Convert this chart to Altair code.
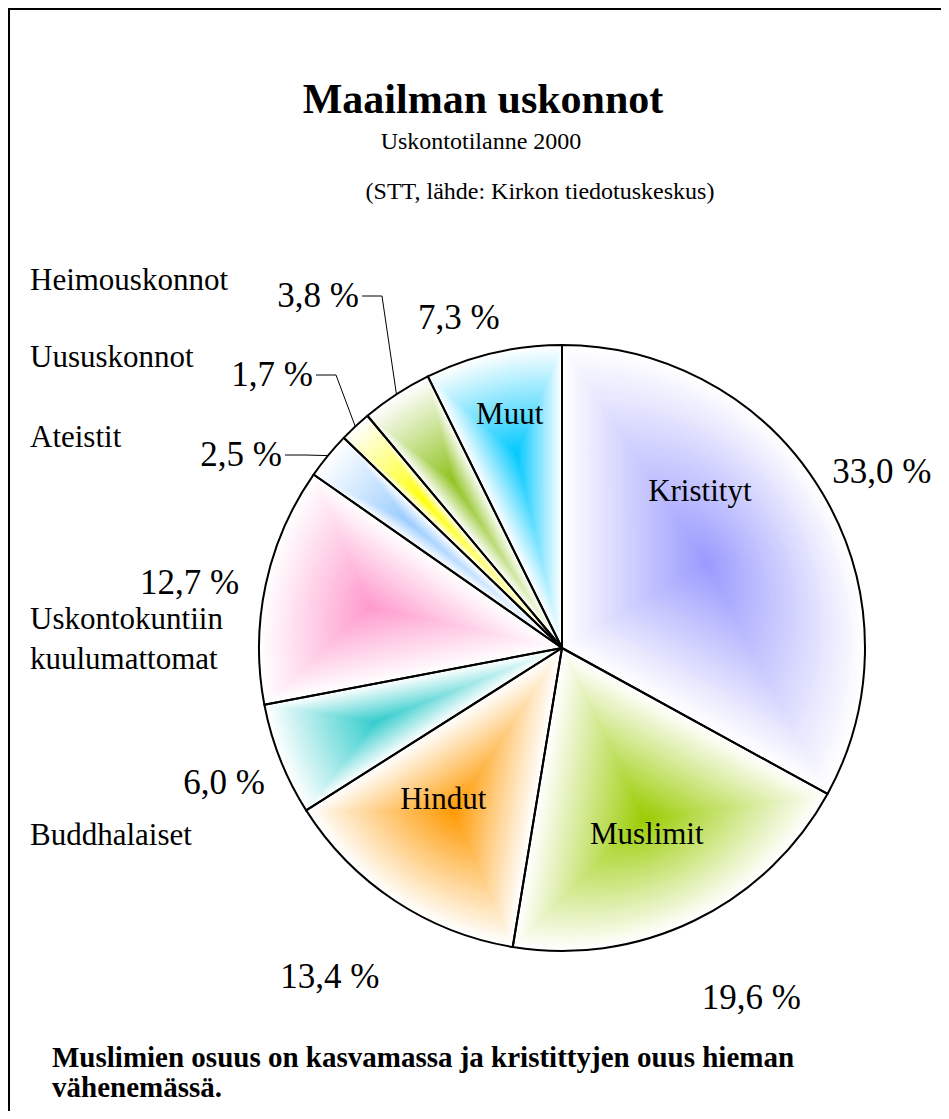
import math
import altair as alt
import pandas as pd

# ---------------- data ----------------
categories = ["Kristityt", "Muslimit", "Hindut", "Buddhalaiset",
              "Uskontokuntiin kuulumattomat", "Ateistit", "Uususkonnot",
              "Heimouskonnot", "Muut"]
shares = [33.0, 19.6, 13.4, 6.0, 12.7, 2.5, 1.7, 3.8, 7.3]
share_labels = ["33,0 %", "19,6 %", "13,4 %", "6,0 %", "12,7 %",
                "2,5 %", "1,7 %", "3,8 %", "7,3 %"]
slice_colors = ["#9999ff", "#99cc00", "#ff9900", "#33cccc", "#ff99cc",
                "#99ccff", "#ffff00", "#8fc31f", "#00c8ff"]

title_text = "Maailman uskonnot"
subtitle_text = "Uskontotilanne 2000"
source_text = "(STT, lähde: Kirkon tiedotuskeskus)"
note_lines = ["Muslimien osuus on kasvamassa ja kristittyjen ouus hieman",
              "vähenemässä."]

# ---------------- layout ----------------
R = 303
VIEW_W, VIEW_H = 933, 1103
CX, CY = 554, 640            # pie centre inside the view (px)
FONT = "Liberation Serif"
LEVELS = 48
GAMMA = 1.0

# percent labels placed around the pie: slice index -> (radius px, angle shift deg)
pct_place = {0: (365, 1.8), 1: (398, -2.5), 2: (403, 1.7), 3: (364, -0.2),
             4: (378, -2.1), 8: (346, -4.2)}
# small slices with leader lines: slice index -> elbow offset from centre (px)
leader_elbow = {5: (-257, -193), 6: (-226, -273), 7: (-180, -352)}
LEADER_TAIL = 20
# names inside slices: slice index -> (radius px, angle shift deg)
inside_place = {0: (208, -17.9), 1: (205, 1.5), 2: (193, 4.5), 8: (239, 0.5)}
# names outside, left column: (text, y offset from centre)
outside_names = [("Heimouskonnot", -367), ("Uususkonnot", -290),
                 ("Ateistit", -210), ("Uskontokuntiin", -28),
                 ("kuulumattomat", 12), ("Buddhalaiset", 188)]
OUTSIDE_X = -532

# ---------------- derived tables ----------------
def hex_to_rgb(h):
    h = h.lstrip("#")
    return [int(h[i:i + 2], 16) for i in (0, 2, 4)]

starts = []
acc = 0.0
for v in shares:
    starts.append(acc)
    acc += v

def mid_angle(i):
    return (starts[i] + shares[i] / 2) / 100 * 2 * math.pi

grad_rows = []
for k in range(LEVELS):
    s = 1 - k / LEVELS
    for i, v in enumerate(shares):
        m = mid_angle(i)
        a = v / 100 * math.pi
        d = 2 * R * math.sin(a) / (3 * a)
        px, py = d * math.sin(m), -d * math.cos(m)
        f = (1 - s) ** GAMMA
        rgb = hex_to_rgb(slice_colors[i])
        col = "#%02x%02x%02x" % tuple(round(255 + (c - 255) * f) for c in rgb)
        grad_rows.append({"cat": categories[i], "t0": starts[i], "t1": starts[i] + v,
                          "cx": (1 - s) * px, "cy": (1 - s) * py, "rad": s * R,
                          "col": col, "ord": k})
grad_df = pd.DataFrame(grad_rows)

outline_df = pd.DataFrame({"cat": categories, "t0": starts,
                           "t1": [s + v for s, v in zip(starts, shares)],
                           "cx": 0.0, "cy": 0.0, "rad": float(R)})

pct_rows = []
for i, (r, da) in pct_place.items():
    m = mid_angle(i) + math.radians(da)
    pct_rows.append({"label": share_labels[i], "x": r * math.sin(m), "y": -r * math.cos(m)})
pct_df = pd.DataFrame(pct_rows)

seg_rows, lead_lbl = [], []
for i, (ex, ey) in leader_elbow.items():
    m = mid_angle(i)
    sx, sy = R * math.sin(m), -R * math.cos(m)
    seg_rows.append({"x": sx, "y": sy, "x2": ex, "y2": ey})
    seg_rows.append({"x": ex, "y": ey, "x2": ex - LEADER_TAIL, "y2": ey})
    lead_lbl.append({"label": share_labels[i], "x": ex - LEADER_TAIL - 3, "y": ey})
seg_df = pd.DataFrame(seg_rows)
lead_df = pd.DataFrame(lead_lbl)

in_rows = []
for i, (r, da) in inside_place.items():
    m = mid_angle(i) + math.radians(da)
    in_rows.append({"label": categories[i], "x": r * math.sin(m), "y": -r * math.cos(m)})
in_df = pd.DataFrame(in_rows)

out_df = pd.DataFrame({"label": [t for t, _ in outside_names],
                       "x": OUTSIDE_X, "y": [y for _, y in outside_names]})

# ---------------- scales ----------------
xs = alt.Scale(domain=[-CX, VIEW_W - CX], range=[0, VIEW_W], nice=False, zero=False)
ys = alt.Scale(domain=[-CY, VIEW_H - CY], range=[0, VIEW_H], nice=False, zero=False)
ts = alt.Scale(domain=[0, 100], range=[0, 2 * math.pi])
rs = alt.Scale(type="linear", domain=[0, R], range=[0, R], zero=True)

def arc_enc():
    return dict(x=alt.X("cx:Q", scale=xs, axis=None),
                y=alt.Y("cy:Q", scale=ys, axis=None),
                theta=alt.Theta("t0:Q", scale=ts, stack=None),
                theta2="t1:Q",
                radius=alt.Radius("rad:Q", scale=rs))

gradient = alt.Chart(grad_df).mark_arc().encode(
    fill=alt.Fill("col:N", scale=None), order=alt.Order("ord:Q"), **arc_enc())

outline = alt.Chart(outline_df).mark_arc(
    fillOpacity=0, stroke="black", strokeWidth=2, strokeJoin="round").encode(**arc_enc())

leaders = alt.Chart(seg_df).mark_rule(color="black", strokeWidth=1).encode(
    x=alt.X("x:Q", scale=xs, axis=None), y=alt.Y("y:Q", scale=ys, axis=None),
    x2="x2:Q", y2="y2:Q")

def text_layer(df, size, align="center", weight="normal"):
    return alt.Chart(df).mark_text(font=FONT, fontSize=size, align=align,
                                   baseline="middle", fontWeight=weight,
                                   color="black").encode(
        x=alt.X("x:Q", scale=xs, axis=None), y=alt.Y("y:Q", scale=ys, axis=None),
        text="label:N")

pct_text = text_layer(pct_df, 35)
lead_text = text_layer(lead_df, 35, align="right")
in_text = text_layer(in_df, 31)
out_text = text_layer(out_df, 31, align="left")

def fixed_text(txt, px, py, size, weight="normal", align="center"):
    return alt.Chart(pd.DataFrame({"t": [txt]})).mark_text(
        font=FONT, fontSize=size, fontWeight=weight, align=align,
        baseline="alphabetic", color="black").encode(
        x=alt.value(px), y=alt.value(py), text="t:N")

title = fixed_text(title_text, 475, 105, 42, weight="bold")
subtitle = fixed_text(subtitle_text, 473, 141, 24)
source = fixed_text(source_text, 532, 191, 24)
note1 = fixed_text(note_lines[0], 44, 1059, 29, weight="bold", align="left")
note2 = fixed_text(note_lines[1], 44, 1089, 29, weight="bold", align="left")

frame_df = pd.DataFrame({"k": [0]})
frame_left = alt.Chart(frame_df).mark_rule(color="black", strokeWidth=2).encode(
    x=alt.value(1), y=alt.value(0), y2=alt.value(VIEW_H))
frame_top = alt.Chart(frame_df).mark_rule(color="black", strokeWidth=2).encode(
    y=alt.value(1), x=alt.value(0), x2=alt.value(VIEW_W))

chart = alt.layer(gradient, outline, leaders, pct_text, lead_text, in_text, out_text,
                  title, subtitle, source, note1, note2, frame_left, frame_top).properties(
    width=VIEW_W, height=VIEW_H,
    padding=0,
    autosize=alt.AutoSizeParams(type="none"),
    background="white",
).configure_view(strokeWidth=0)

chart.save("out.html", embed_options={"renderer": "svg", "actions": False})
